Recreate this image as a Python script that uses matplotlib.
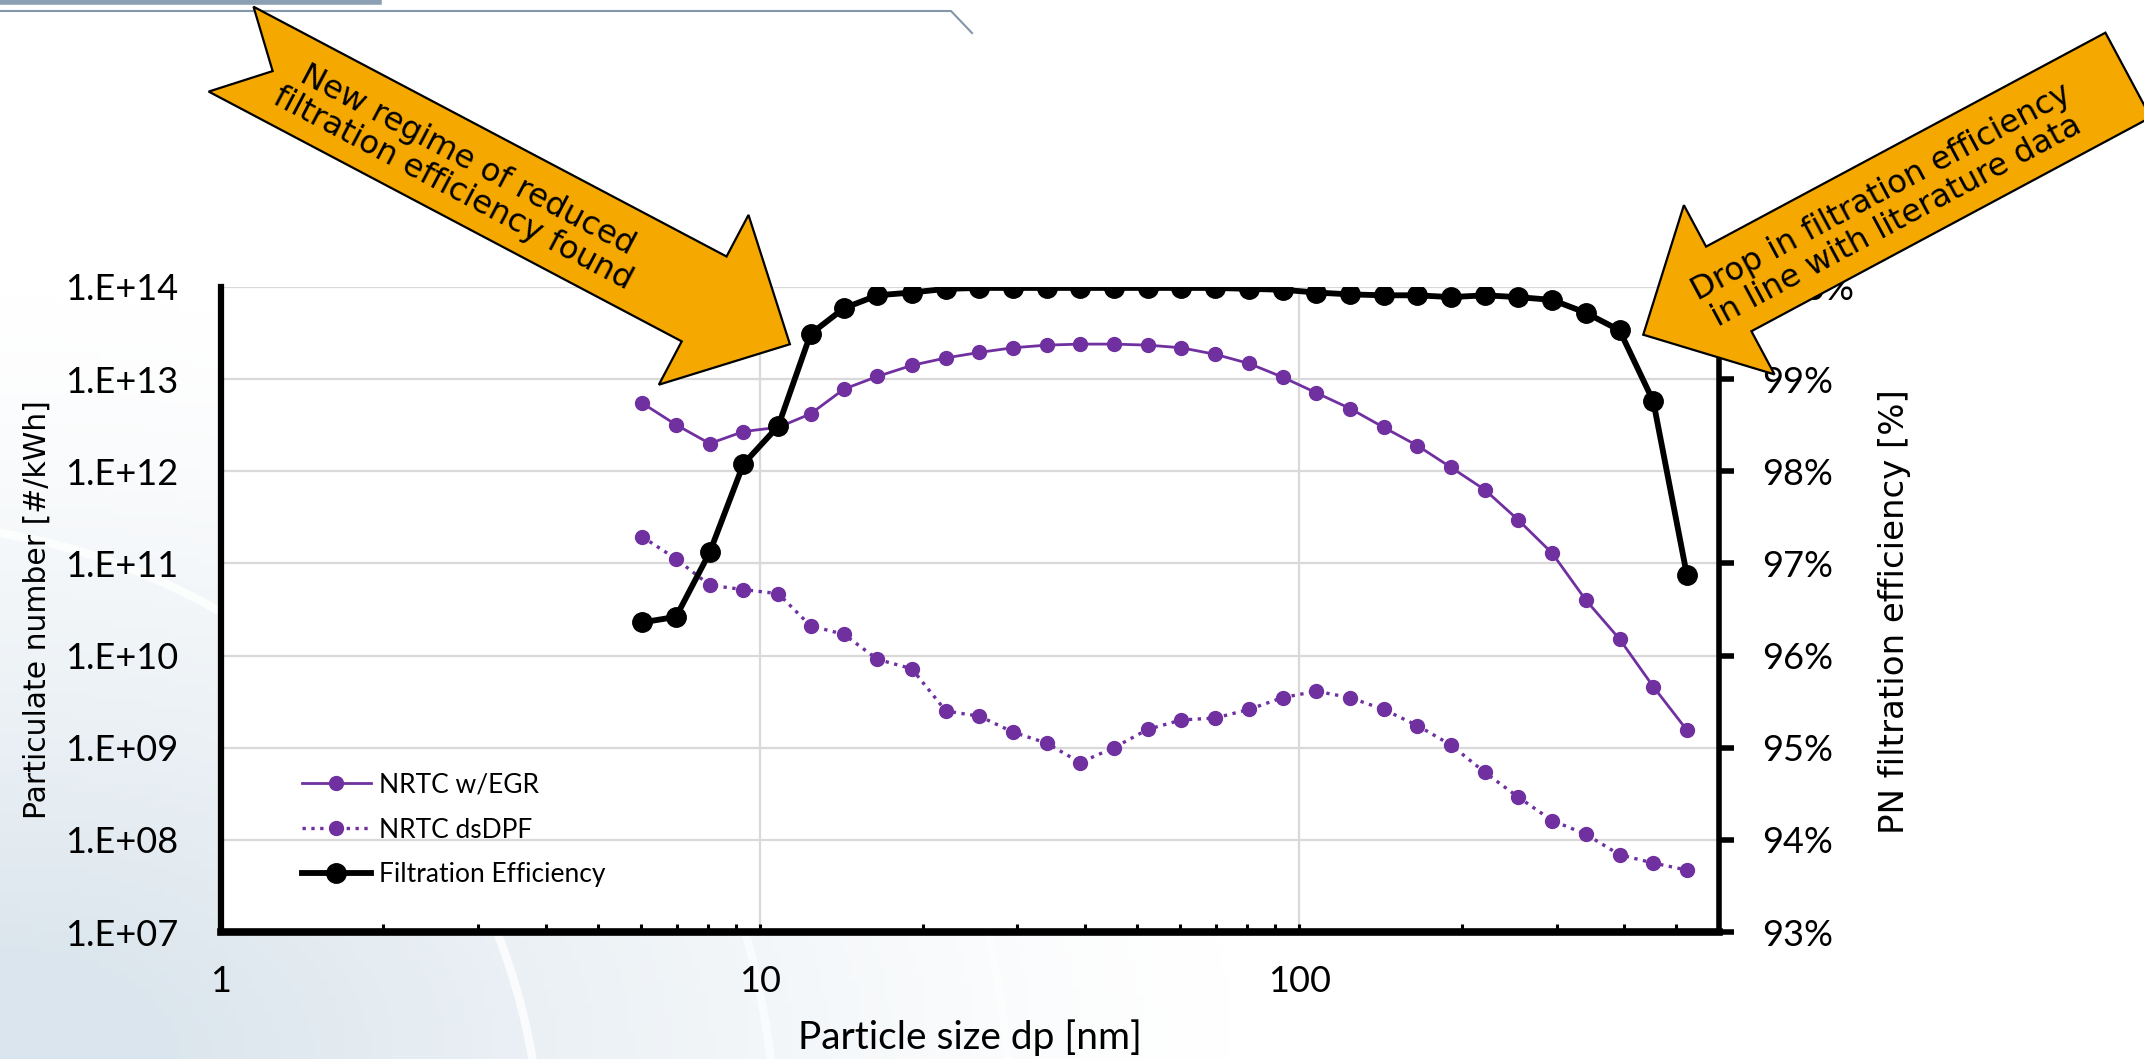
import numpy as np
import matplotlib
matplotlib.use("Agg")
import matplotlib.pyplot as plt
from matplotlib.patches import Polygon, Arc
from matplotlib.lines import Line2D

# EEPS channel mid-points [nm]
dp_nm = [6.04, 6.98, 8.06, 9.31, 10.8, 12.4, 14.3, 16.5, 19.1, 22.1, 25.5, 29.4,
         34.0, 39.2, 45.3, 52.3, 60.4, 69.8, 80.6, 93.1, 107.5, 124.1, 143.3,
         165.5, 191.1, 220.7, 254.8, 294.3, 339.8, 392.4, 453.2, 523.3]

# engine-out PN (NRTC w/EGR) [#/kWh]
pn_egr = [5.5e12, 3.2e12, 2.0e12, 2.7e12, 3.0e12, 4.2e12, 7.8e12, 1.07e13,
          1.41e13, 1.70e13, 1.95e13, 2.19e13, 2.34e13, 2.40e13, 2.40e13, 2.34e13,
          2.19e13, 1.86e13, 1.48e13, 1.05e13, 7.1e12, 4.8e12, 3.0e12, 1.9e12,
          1.1e12, 6.3e11, 2.95e11, 1.29e11, 4.0e10, 1.51e10, 4.6e9, 1.55e9]

# downstream DPF (NRTC dsDPF) [#/kWh]
pn_dsdpf = [1.95e11, 1.12e11, 5.8e10, 5.2e10, 4.7e10, 2.1e10, 1.7e10, 9.1e9,
            7.2e9, 2.5e9, 2.2e9, 1.48e9, 1.12e9, 6.9e8, 1.0e9, 1.58e9,
            2.0e9, 2.1e9, 2.6e9, 3.5e9, 4.1e9, 3.5e9, 2.6e9, 1.74e9,
            1.07e9, 5.4e8, 2.9e8, 1.62e8, 1.15e8, 6.9e7, 5.6e7, 4.7e7]

# filtration efficiency [%]
filt_eff = [96.36, 96.42, 97.12, 98.08, 98.49, 99.49, 99.77, 99.91, 99.94, 99.98,
            99.99, 99.99, 99.99, 99.99, 99.99, 99.99, 99.99, 99.99, 99.98, 99.97,
            99.94, 99.92, 99.91, 99.91, 99.89, 99.91, 99.89, 99.86, 99.72, 99.53,
            98.76, 96.87]

y_left_ticks = [1e7, 1e8, 1e9, 1e10, 1e11, 1e12, 1e13, 1e14]
y_left_labels = ["1.E+07", "1.E+08", "1.E+09", "1.E+10", "1.E+11", "1.E+12", "1.E+13", "1.E+14"]
y_right_ticks = [93, 94, 95, 96, 97, 98, 99, 100]
y_right_labels = ["93%", "94%", "95%", "96%", "97%", "98%", "99%", "100%"]

note_left = "New regime of reduced\nfiltration efficiency found"
note_right = "Drop in filtration efficiency\nin line with literature data"

PURPLE = "#7030A0"
ORANGE = "#F5A800"
W, H = 2144, 1059

fig = plt.figure(figsize=(W / 100, H / 100), dpi=100)
fig.patch.set_facecolor("white")


def fxy(x, y):
    # full-image pixel (y down) -> figure fraction
    return (x / W, 1 - y / H)


# faint background swoosh, lower left
bg = fig.add_axes([0, 0, 1, 1], zorder=-10)
gx, gy = np.meshgrid(np.linspace(0, 1, 300), np.linspace(0, 1, 150))
d = np.sqrt((gx * 2.0) ** 2 + ((1 - gy) * 1.6) ** 2)
w = np.clip(1.15 - d, 0, 1) ** 1.3
base = np.array([1.0, 1.0, 1.0])
tint = np.array([0.86, 0.90, 0.93])
img = base[None, None, :] * (1 - w[..., None]) + tint[None, None, :] * w[..., None]
bg.imshow(img, extent=[0, 1, 0, 1], aspect="auto", origin="upper")
for r, a in [(0.55, 0.8), (0.75, 0.6), (0.95, 0.5), (1.2, 0.4)]:
    bg.add_patch(Arc((-0.05, -0.1), r * 1.1, r * 2.2, theta1=0, theta2=90,
                     color="white", lw=6, alpha=a))
bg.set_xlim(0, 1)
bg.set_ylim(0, 1)
bg.axis("off")

# top decoration lines
fig.add_artist(Line2D([0, 379 / W], [1 - 2 / H, 1 - 2 / H], transform=fig.transFigure,
                      color="#8DA0B3", lw=4))
fig.add_artist(Line2D([0, 951 / W, 972 / W], [1 - 11 / H, 1 - 11 / H, 1 - 33 / H],
                      transform=fig.transFigure, color="#8497AA", lw=1.5))

ax = fig.add_axes([221 / W, 1 - 932 / H, (1719 - 221) / W, (932 - 287) / H])
ax.set_facecolor("white")
ax.set_xscale("log")
ax.set_yscale("log")
ax.set_xlim(1, 600)
ax.set_ylim(1e7, 1e14)

ax.grid(True, which="major", axis="both", color="#D9D9D9", lw=1.6)
ax.set_axisbelow(True)

l1, = ax.plot(dp_nm, pn_egr, color=PURPLE, lw=2.0, marker="o", ms=10,
              label="NRTC w/EGR", zorder=3)
l2, = ax.plot(dp_nm, pn_dsdpf, color=PURPLE, lw=2.4, ls=":", marker="o", ms=10,
              label="NRTC dsDPF", zorder=3)

ax.set_yticks(y_left_ticks)
ax.set_yticklabels(y_left_labels)
ax.yaxis.set_minor_locator(matplotlib.ticker.NullLocator())
ax.set_xticks([1, 10, 100])
ax.set_xticklabels(["1", "10", "100"])
ax.xaxis.set_minor_locator(matplotlib.ticker.LogLocator(base=10, subs=np.arange(2, 10)))
ax.xaxis.set_minor_formatter(matplotlib.ticker.NullFormatter())

ax.tick_params(axis="y", which="both", length=0, pad=31, labelsize=26)
ax.tick_params(axis="x", which="both", direction="in", length=6, width=2.2,
               pad=24, labelsize=26, bottom=True, top=False)
for lab in ax.get_xticklabels() + ax.get_yticklabels():
    lab.set_fontfamily("Lato")

for s in ["top", "right"]:
    ax.spines[s].set_visible(False)
ax.spines["left"].set_linewidth(4.5)
ax.spines["bottom"].set_linewidth(5.5)

ax.set_xlabel("Particle size dp [nm]", fontsize=28, family="Lato")
ax.xaxis.set_label_coords(0.5, -0.136)
ax.set_ylabel("Particulate number [#/kWh]", fontsize=21.5, family="DejaVu Sans")
ax.yaxis.set_label_coords(-0.113, 0.5)

ax2 = ax.twinx()
ax2.set_ylim(93, 100)
l3, = ax2.plot(dp_nm, filt_eff, color="black", lw=4.2, marker="o", ms=14,
               label="Filtration Efficiency", zorder=4)
ax2.set_yticks(y_right_ticks)
ax2.set_yticklabels(y_right_labels)
ax2.tick_params(axis="y", direction="out", length=11, width=4, pad=20, labelsize=26)
for lab in ax2.get_yticklabels():
    lab.set_fontfamily("Lato")
for s in ["top", "left", "bottom"]:
    ax2.spines[s].set_visible(False)
ax2.spines["right"].set_linewidth(4)
ax2.set_ylabel("PN filtration efficiency [%]", fontsize=24.5, family="DejaVu Sans")
ax2.yaxis.set_label_coords(1.106, 0.496)

leg = ax2.legend(handles=[l1, l2, l3], loc="center left",
                 bbox_to_anchor=fxy(302, 830), bbox_transform=fig.transFigure,
                 frameon=False, borderpad=0, borderaxespad=0, handlelength=2.6,
                 handletextpad=0.3, labelspacing=0.75,
                 prop=dict(family="Lato", size=19))


def block_arrow(origin, u, n, length, notch):
    # shape in shaft coords (along, across); shaft width 96, head length 97
    pts = [(0, 0), (length, 0), (length, -47), (length + 97, 48), (length, 145),
           (length, 96), (0, 96)]
    if notch:
        pts.append((47, 48))
    out = []
    for s, t in pts:
        x = origin[0] + s * u[0] + t * n[0]
        y = origin[1] + s * u[1] + t * n[1]
        out.append(fxy(x, y))
    return out


uL = (0.8842, 0.4669)
nL = (-0.4669, 0.8842)
fig.add_artist(Polygon(block_arrow((253.5, 6.7), uL, nL, 535, True), closed=True,
                       transform=fig.transFigure, facecolor=ORANGE,
                       edgecolor="black", lw=1.6, zorder=10))
fig.text(*fxy(460, 175), note_left, rotation=-27.8, rotation_mode="anchor",
         ha="center", va="center", fontsize=23, family="DejaVu Sans",
         linespacing=1.05, zorder=11)

uR = (-0.8815, 0.4722)
nR = (0.4722, 0.8815)
fig.add_artist(Polygon(block_arrow((2105.4, 32.7), uR, nR, 453, False), closed=True,
                       transform=fig.transFigure, facecolor=ORANGE,
                       edgecolor="black", lw=1.6, zorder=10))
fig.text(*fxy(1889, 207), note_right, rotation=28.2, rotation_mode="anchor",
         ha="center", va="center", fontsize=23, family="DejaVu Sans",
         linespacing=1.05, zorder=11)

fig.savefig("out.png", dpi=100)
